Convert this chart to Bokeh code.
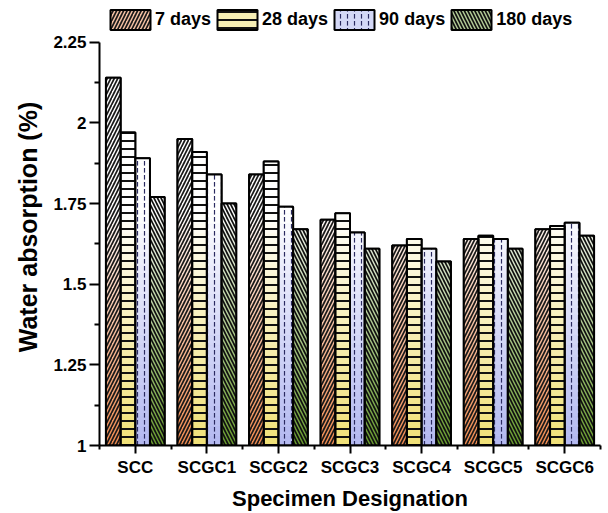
import numpy as np
from bokeh.plotting import figure
from bokeh.models import ColumnDataSource, FixedTicker, Legend, LegendItem, Range1d
from bokeh.embed import file_html
from bokeh.resources import INLINE

categories = ["SCC", "SCGC1", "SCGC2", "SCGC3", "SCGC4", "SCGC5", "SCGC6"]
series = ["7 days", "28 days", "90 days", "180 days"]
d7 = [2.14, 1.95, 1.84, 1.70, 1.62, 1.64, 1.67]
d28 = [1.97, 1.91, 1.88, 1.72, 1.64, 1.65, 1.68]
d90 = [1.89, 1.84, 1.74, 1.66, 1.61, 1.64, 1.69]
d180 = [1.77, 1.75, 1.67, 1.61, 1.57, 1.61, 1.65]
values = [d7, d28, d90, d180]
y_ticks = [1, 1.25, 1.5, 1.75, 2, 2.25]
y_tick_labels = ["1", "1.25", "1.5", "1.75", "2", "2.25"]

base_colors = [(242, 138, 78), (240, 224, 118), (178, 184, 240), (104, 156, 44)]
legend_colors = ["#f6c2a4", "#f6eeb4", "#d4d8f6", "#b4cc98"]
hatches = ["/", "-", ":", "\\"]
hatch_colors = ["#1a1a1a", "#111111", "#2a2a60", "#111111"]
hatch_scales = [7, 8, 7, 7]
hatch_weights = [1.7, 2.0, 1.2, 1.7]

FONT = "Liberation Sans"

# frame: x 99..600, y 8..449 ; axis line ends at 2.25 (y=42)
y_top = 1 + 1.25 * (449 - 8) / (449 - 42)

p = figure(width=608, height=513, output_backend="svg", toolbar_location=None,
           x_range=Range1d(0, 7), y_range=Range1d(1, y_top),
           min_border_left=99, min_border_right=8, min_border_top=8, min_border_bottom=64)
p.outline_line_color = None
p.xgrid.visible = False
p.ygrid.visible = False
p.background_fill_color = "white"

bw = 0.205
offsets = [-1.5 * bw, -0.5 * bw, 0.5 * bw, 1.5 * bw]
centers = np.arange(len(categories)) + 0.5

sources = [ColumnDataSource(dict(x=list(centers + offsets[s]), top=vals))
           for s, vals in enumerate(values)]

# base bars (also used as legend swatches), later covered by gradient bands
legend_items = []
for s in range(len(series)):
    r = p.vbar(x="x", top="top", bottom=1, width=bw, source=sources[s],
               fill_color=legend_colors[s], line_color="black", line_width=2,
               hatch_pattern=hatches[s], hatch_color=hatch_colors[s],
               hatch_scale=hatch_scales[s], hatch_weight=hatch_weights[s])
    legend_items.append(LegendItem(label=series[s], renderers=[r]))

# global vertical gradient bands (white above ~1.7, full colour at 1.0)
nb = 40
edges = np.linspace(1.0, 2.25, nb + 1)

def mix(c, t):
    return "#%02x%02x%02x" % tuple(int(round(255 + (ci - 255) * t)) for ci in c)

for s, vals in enumerate(values):
    xs = centers + offsets[s]
    gx, gb, gt, gc = [], [], [], []
    for x, v in zip(xs, vals):
        for k in range(nb):
            lo, hi = edges[k], edges[k + 1]
            if lo >= v:
                break
            mid = (lo + min(hi, v)) / 2
            t = float(np.clip((1.72 - mid) / 0.72, 0, 1)) ** 0.9
            gx.append(float(x)); gb.append(float(lo)); gt.append(float(min(hi, v))); gc.append(mix(base_colors[s], t))
    p.vbar(x=gx, bottom=gb, top=gt, width=bw, fill_color=gc, line_color=gc, line_width=0.5)

# hatch + outline overlay
for s in range(len(series)):
    p.vbar(x="x", top="top", bottom=1, width=bw, source=sources[s],
           fill_alpha=0, line_color="black", line_width=2,
           hatch_pattern=hatches[s], hatch_color=hatch_colors[s],
           hatch_scale=hatch_scales[s], hatch_weight=hatch_weights[s])

legend = Legend(items=legend_items, orientation="horizontal", location=(6, 413),
                glyph_width=50, glyph_height=25, label_standoff=0, spacing=1,
                padding=2, margin=0, border_line_color=None, background_fill_alpha=0,
                label_text_font=FONT, label_text_font_style="bold",
                label_text_font_size="18px", label_text_color="black")
p.add_layout(legend, "center")

# axes
xa = p.xaxis[0]
xa.ticker = FixedTicker(ticks=[float(c) for c in centers], minor_ticks=list(range(len(categories) + 1)))
xa.major_label_overrides = {float(c): n for c, n in zip(centers, categories)}
xa.axis_label = "Specimen Designation"
ya = p.yaxis[0]
ya.ticker = FixedTicker(ticks=y_ticks, minor_ticks=[1.125, 1.375, 1.625, 1.875, 2.125])
ya.major_label_overrides = {float(t): l for t, l in zip(y_ticks, y_tick_labels)}
ya.axis_label = "Water absorption (%)"
ya.bounds = (1, 2.25)

for ax in (xa, ya):
    ax.axis_line_width = 2
    ax.axis_line_color = "black"
    ax.major_tick_line_width = 2
    ax.minor_tick_line_width = 2
    ax.major_tick_in = 0
    ax.minor_tick_in = 0
    ax.major_label_text_font = FONT
    ax.major_label_text_font_style = "bold"
    ax.major_label_text_font_size = "17px"
    ax.major_label_text_color = "black"
    ax.axis_label_text_font = FONT
    ax.axis_label_text_font_style = "bold"
    ax.axis_label_text_color = "black"
xa.major_tick_out = 8
xa.minor_tick_out = 4
ya.major_tick_out = 10
ya.minor_tick_out = 5
xa.axis_label_text_font_size = "22px"
ya.axis_label_text_font_size = "25px"
xa.axis_label_standoff = 6
ya.axis_label_standoff = 8
ya.major_label_standoff = 3
xa.major_label_standoff = 4

open("out.html", "w").write(file_html(p, INLINE))
